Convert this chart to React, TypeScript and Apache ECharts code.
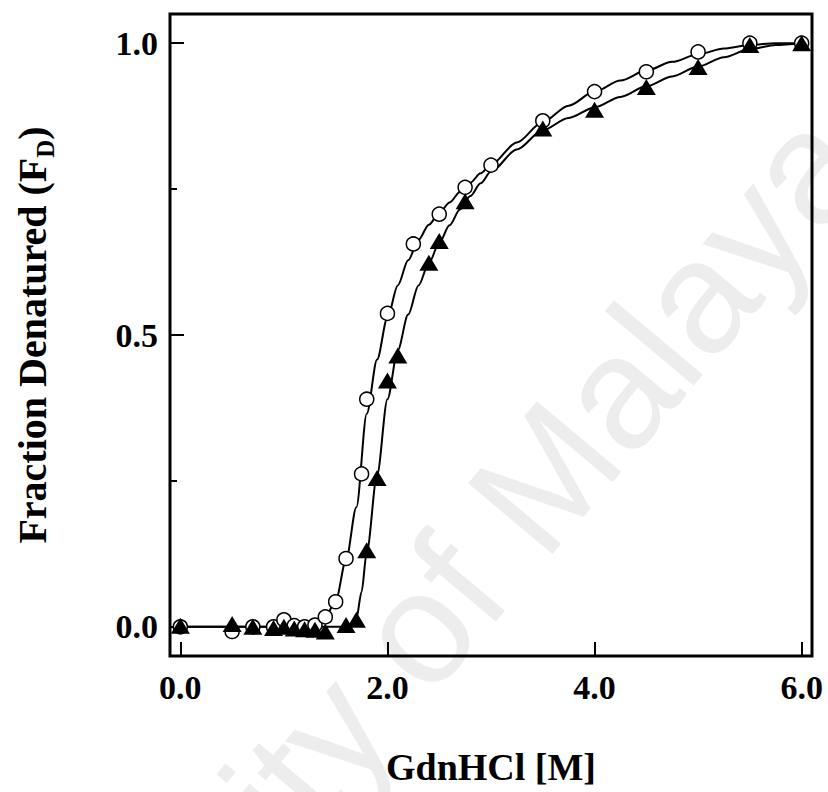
import React, { useEffect, useRef } from "react";
import * as echarts from "echarts";

// GdnHCl concentration (M) and fraction denatured, open circles
const circleX = [0, 0.5, 0.7, 0.9, 1.0, 1.1, 1.2, 1.3, 1.4, 1.5, 1.6, 1.75, 1.8, 2.0, 2.25, 2.5, 2.75, 3.0, 3.5, 4.0, 4.5, 5.0, 5.5, 6.0];
const circleY = [0, -0.008, 0.0, 0.0, 0.012, 0.002, 0.0, 0.003, 0.017, 0.043, 0.117, 0.262, 0.39, 0.537, 0.656, 0.707, 0.753, 0.791, 0.867, 0.917, 0.951, 0.985, 1.0, 1.0];

// filled triangles
const triangleX = [0, 0.5, 0.7, 0.9, 1.0, 1.1, 1.2, 1.3, 1.4, 1.6, 1.7, 1.8, 1.9, 2.0, 2.1, 2.4, 2.5, 2.75, 3.5, 4.0, 4.5, 5.0, 5.5, 6.0];
const triangleY = [0.002, 0.005, 0.0, -0.002, 0.0, -0.003, -0.004, -0.005, -0.008, 0.003, 0.012, 0.131, 0.255, 0.422, 0.465, 0.624, 0.661, 0.729, 0.854, 0.886, 0.925, 0.959, 0.997, 1.0];

// fitted curves
const circleFitX = [0, 0.5, 1.0, 1.2, 1.3, 1.4, 1.5, 1.6, 1.7, 1.8, 1.9, 2.0, 2.1, 2.2, 2.3, 2.4, 2.5, 2.6, 2.7, 2.8, 2.9, 3.0, 3.25, 3.5, 3.75, 4.0, 4.25, 4.5, 4.75, 5.0, 5.25, 5.5, 5.75, 6.0];
const circleFitY = [0, 0, 0, 0, 0.002, 0.016, 0.045, 0.114, 0.205, 0.365, 0.458, 0.53, 0.585, 0.628, 0.663, 0.689, 0.709, 0.727, 0.745, 0.761, 0.777, 0.792, 0.83, 0.865, 0.893, 0.917, 0.936, 0.953, 0.968, 0.981, 0.991, 0.997, 1.0, 1.0];
const triangleFitX = [0, 0.5, 1.0, 1.5, 1.6, 1.65, 1.7, 1.75, 1.8, 1.9, 2.0, 2.1, 2.2, 2.3, 2.4, 2.5, 2.6, 2.7, 2.8, 2.9, 3.0, 3.25, 3.5, 3.75, 4.0, 4.25, 4.5, 4.75, 5.0, 5.25, 5.5, 5.75, 6.0];
const triangleFitY = [0, 0, 0, 0, 0, 0.002, 0.014, 0.06, 0.128, 0.26, 0.39, 0.474, 0.535, 0.585, 0.623, 0.658, 0.688, 0.715, 0.738, 0.76, 0.78, 0.818, 0.851, 0.872, 0.89, 0.908, 0.926, 0.943, 0.96, 0.976, 0.99, 0.997, 1.0];

const xTicks = [0, 2, 4, 6];
const yTicks = [0, 0.5, 1.0];
const yMinorTicks = [0.25, 0.75];

const zip = (xs: number[], ys: number[]) => xs.map((x, i) => [x, ys[i]]);

const FONT = '"Liberation Serif", "Times New Roman", serif';

export default function App() {
  const ref = useRef<HTMLDivElement>(null);
  useEffect(() => {
    const chart = echarts.init(ref.current!, null, { renderer: "svg" });
    const rot = (50 * Math.PI) / 180;
    chart.setOption({
      animation: false,
      backgroundColor: "#fff",
      grid: {
        left: 170,
        right: 16,
        top: 14,
        bottom: 136,
        show: true,
        borderColor: "#000",
        borderWidth: 3,
        backgroundColor: "transparent",
      },
      graphic: [
        {
          type: "text",
          x: 370,
          y: 685,
          rotation: rot,
          z: -10,
          silent: true,
          style: {
            text: "University of Malaya",
            fontSize: 160,
            fontFamily: '"Liberation Sans", Arial, sans-serif',
            fill: "#ededed",
            align: "center",
            verticalAlign: "middle",
            textAlign: "center",
            textVerticalAlign: "middle",
          },
        },
      ],
      xAxis: {
        type: "value",
        min: -0.1,
        max: 6.1,
        name: "GdnHCl [M]",
        nameLocation: "middle",
        nameGap: 92,
        nameTextStyle: { fontFamily: FONT, fontWeight: "bold", fontSize: 38, color: "#000" },
        axisLine: { show: false, onZero: false },
        splitLine: { show: false },
        axisTick: {
          inside: true,
          length: 14,
          lineStyle: { color: "#000", width: 2 },
          customValues: xTicks,
        },
        axisLabel: {
          margin: 14,
          fontFamily: FONT,
          fontWeight: "bold",
          fontSize: 34,
          color: "#000",
          customValues: xTicks,
          formatter: (v: number) => v.toFixed(1),
        },
      },
      yAxis: [
        {
          type: "value",
          min: -0.05,
          max: 1.05,
          name: "{a|Fraction Denatured (F}{s|D}{a|)}",
          nameLocation: "middle",
          nameGap: 112,
          nameTextStyle: {
            color: "#000",
            rich: {
              a: { fontFamily: FONT, fontWeight: "bold", fontSize: 40, color: "#000", lineHeight: 46, verticalAlign: "top" },
              s: { fontFamily: FONT, fontWeight: "bold", fontSize: 25, color: "#000", lineHeight: 46, verticalAlign: "bottom", padding: [14, 0, 0, 0] },
            },
          },
          axisLine: { show: false, onZero: false },
          splitLine: { show: false },
          axisTick: {
            inside: true,
            length: 14,
            lineStyle: { color: "#000", width: 2 },
            customValues: yTicks,
          },
          axisLabel: {
            margin: 12,
            fontFamily: FONT,
            fontWeight: "bold",
            fontSize: 34,
            color: "#000",
            customValues: yTicks,
            formatter: (v: number) => v.toFixed(1),
          },
        },
        {
          type: "value",
          min: -0.05,
          max: 1.05,
          position: "left",
          axisLine: { show: false, onZero: false },
          splitLine: { show: false },
          axisLabel: { show: false },
          axisTick: {
            inside: true,
            length: 7,
            lineStyle: { color: "#000", width: 2 },
            customValues: yMinorTicks,
          },
        },
      ],
      series: [
        {
          type: "line",
          data: zip(circleFitX, circleFitY),
          showSymbol: false,
          smooth: 0.3,
          smoothMonotone: "x",
          lineStyle: { color: "#000", width: 2 },
          z: 3,
        },
        {
          type: "line",
          data: zip(triangleFitX, triangleFitY),
          showSymbol: false,
          smooth: 0.3,
          smoothMonotone: "x",
          lineStyle: { color: "#000", width: 2 },
          z: 3,
        },
        {
          type: "scatter",
          data: zip(circleX, circleY),
          symbol: "circle",
          symbolSize: 14,
          itemStyle: { color: "#fff", borderColor: "#000", borderWidth: 1.5, opacity: 1 },
          z: 4,
        },
        {
          type: "scatter",
          data: zip(triangleX, triangleY),
          symbol: "triangle",
          symbolSize: [19, 16],
          itemStyle: { color: "#000", opacity: 1 },
          z: 5,
        },
      ],
    });
    return () => chart.dispose();
  }, []);
  return (
    <div
      ref={ref}
      style={{ position: "fixed", left: 0, top: 0, width: 828, height: 792, background: "#fff" }}
    />
  );
}
